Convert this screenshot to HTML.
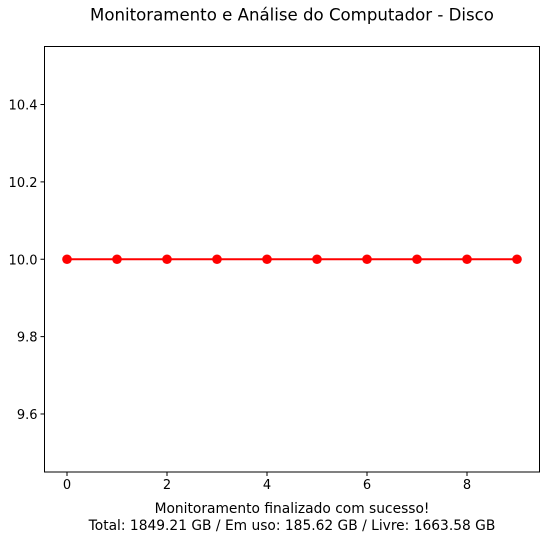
<!DOCTYPE html>
<html><head><meta charset="utf-8"><style>
body{margin:0;background:#fff;width:552px;height:534px;overflow:hidden;font-family:"Liberation Sans","DejaVu Sans",sans-serif}
</style></head><body>
<svg id="chart" width="552" height="534" style="font-family:'DejaVu Sans','Liberation Sans',sans-serif">
<rect width="552" height="534" fill="#fff"/>
<text x="292" y="16" text-anchor="middle" font-size="16.6" dominant-baseline="middle">Monitoramento e Análise do Computador - Disco</text>
<g id="plot"></g>
<rect x="44.5" y="46.5" width="495" height="425.5" fill="none" stroke="#000" stroke-width="1"/>
<text x="292" y="513" text-anchor="middle" font-size="13.8">Monitoramento finalizado com sucesso!</text>
<text x="292" y="530" text-anchor="middle" font-size="13.8">Total: 1849.21 GB / Em uso: 185.62 GB / Livre: 1663.58 GB</text>
</svg>
<script>
const xValues=[0,1,2,3,4,5,6,7,8,9];
const diskValues=[10,10,10,10,10,10,10,10,10,10];
const xTicks=[0,2,4,6,8];
const yTicks=[9.6,9.8,10.0,10.2,10.4];
const yTickLabels=["9.6","9.8","10.0","10.2","10.4"];
const NS="http://www.w3.org/2000/svg";
const X0=44.5,X1=539.5,Y0=46.5,Y1=472;
const xMin=-0.45,xMax=9.45,yMin=9.45,yMax=10.55;
function sx(v){return X0+(v-xMin)/(xMax-xMin)*(X1-X0);}
function sy(v){return Y1-(v-yMin)/(yMax-yMin)*(Y1-Y0);}
const g=document.getElementById('plot');
function mk(t,a){const e=document.createElementNS(NS,t);for(const k in a)e.setAttribute(k,a[k]);g.appendChild(e);return e;}
xTicks.forEach(t=>{
 const l=mk('line',{x1:sx(t),x2:sx(t),y1:Y1,y2:Y1+4,stroke:'#000'});
 
 
 const tx=mk('text',{x:sx(t),y:Y1+17,'text-anchor':'middle','font-size':13});
 tx.textContent=t;
 
 
});
yTicks.forEach((t,i)=>{
 const l=mk('line',{x1:X0-4,x2:X0,y1:sy(t),y2:sy(t),stroke:'#000'});
 
 
 const tx=mk('text',{x:X0-7,y:sy(t)+5,'text-anchor':'end','font-size':13});
 tx.textContent=yTickLabels[i];
 
 
});
const pts=xValues.map((x,i)=>sx(x)+','+sy(diskValues[i])).join(' ');
const pl=mk('polyline',{points:pts,fill:'none',stroke:'#ff0000','stroke-width':2});


xValues.forEach((x,i)=>{
 const c=mk('circle',{cx:sx(x),cy:sy(diskValues[i]),r:4.8,fill:'#ff0000'});
 
 
});
</script>
</body></html>
